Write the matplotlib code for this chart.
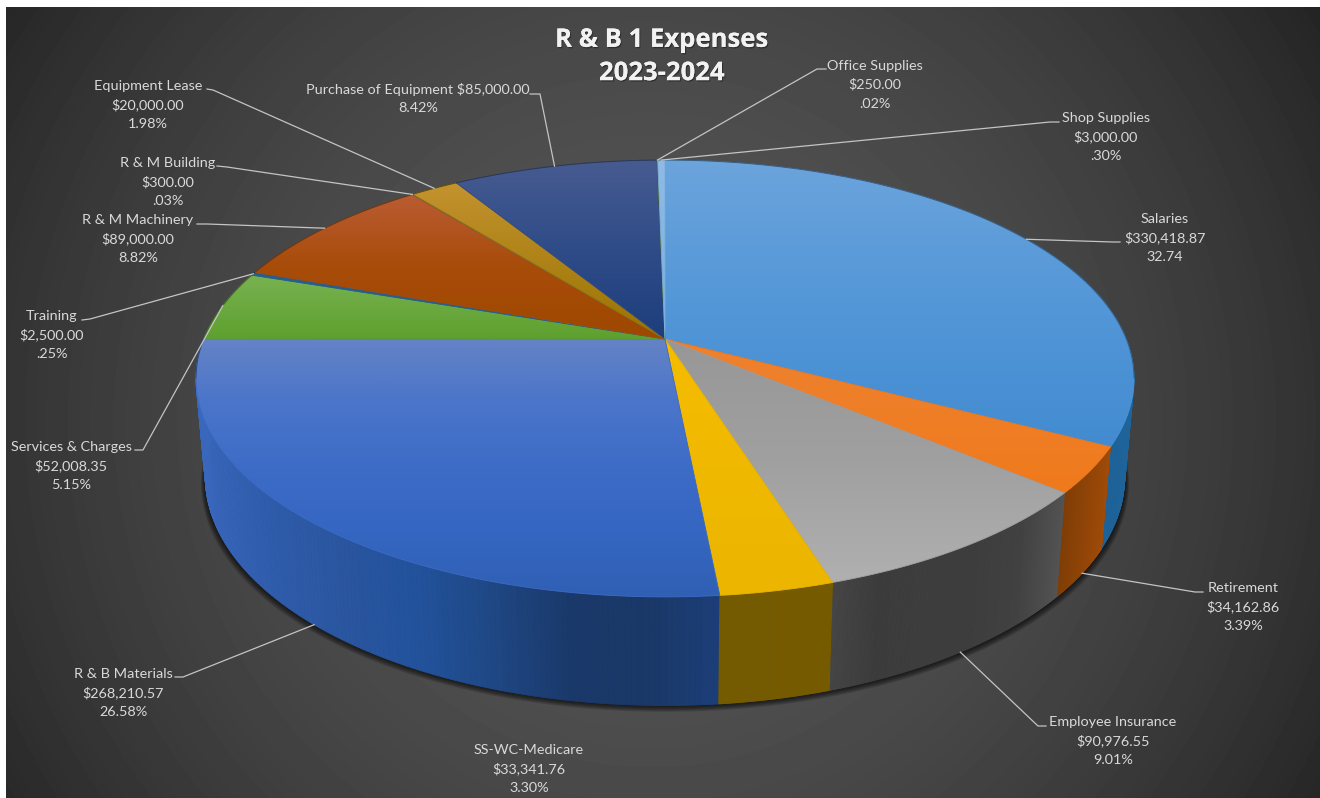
import numpy as np
import matplotlib
matplotlib.use('Agg')
import matplotlib.pyplot as plt
import matplotlib.patheffects as pe
from matplotlib.colors import LinearSegmentedColormap
from matplotlib.patches import Polygon

categorias = ['Salaries', 'Retirement', 'Employee Insurance', 'SS-WC-Medicare', 'R & B Materials',
              'Services & Charges', 'Training', 'R & M Machinery', 'R & M Building', 'Equipment Lease',
              'Purchase of Equipment', 'Office Supplies', 'Shop Supplies']
valores = [330418.87, 34162.86, 90976.55, 33341.76, 268210.57,
           52008.35, 2500.00, 89000.00, 300.00, 20000.00,
           85000.00, 250.00, 3000.00]
percentuais = ['32.74', '3.39%', '9.01%', '3.30%', '26.58%',
               '5.15%', '.25%', '8.82%', '.03%', '1.98%',
               '8.42%', '.02%', '.30%']

# centre of each label block, in pixels
pos_rotulos = [(1165, 237), (1243, 606), (1113, 740), (529, 768), (123, 692),
               (71, 465), (52, 334), (138, 238), (168, 181), (148, 104),
               (418, 98), (875, 84), (1106, 136)]
# where each leader leaves its label: elbow start, elbow end
cotovelos = [((1120, 242), (1113, 242)), ((1203, 592), (1195, 592)), ((1046, 726), (1038, 726)), None,
             ((175, 677), (183, 677)), ((135, 450), (143, 450)), ((82, 320), (90, 319)),
             ((197, 224), (207, 224)), ((217, 166), (227, 167)), ((207, 89), (213, 90)),
             ((530, 94), (540, 94)), ((826, 69), (817, 69)), ((1059, 122), (1050, 122))]

# top face: colours from upper to lower edge of the slice
cores_topo = [
    ['#6ca4dc', '#5b9bd9', '#4d93d6', '#438bd0'],
    ['#ee8230', '#f07a1c'],
    ['#979797', '#a0a0a0', '#b0b0b0'],
    ['#f5bc00', '#ebb500'],
    ['#6583c6', '#4a75ca', '#3d6cc7', '#3566c1', '#3060b4'],
    ['#78b251', '#5ea02e'],
    ['#255e91', '#255e91'],
    ['#ba5c33', '#a84c0a', '#9e4800'],
    ['#636363', '#636363'],
    ['#c4932f', '#997300'],
    ['#475b90', '#2f4c88', '#1d3d7c'],
    ['#43682b', '#43682b'],
    ['#8fbbe6', '#7cafdd'],
]
# side wall: colours from left to right
cores_lateral = [
    ['#1c5c90', '#1e659c'],
    ['#7c3c06', '#a34c08'],
    ['#464646', '#3c3c3c', '#3e3e3e', '#3e3e3e', '#424242', '#555555'],
    ['#745a00', '#755a00'],
    ['#3a68bd', '#2f5cab', '#2a559f', '#22529c', '#1f4783', '#1a396b', '#1a3867', '#1c3e78'],
    ['#4d7a30', '#4d7a30'],
    ['#1a4266', '#1a4266'],
    ['#6c3309', '#6c3309'],
    ['#444444', '#444444'],
    ['#6b5000', '#6b5000'],
    ['#1a2f54', '#1a2f54'],
    ['#2f491e', '#2f491e'],
    ['#5a7f9f', '#5a7f9f'],
]

LARG, ALT = 1320, 798
CX, CY = 665, 339
A, B, K = 461.3, 211.3, 0.1807
ESC_X, ESC_Y, DESCE = 0.98, 1.045, 97
ENTRELINHA = 19

plt.rcParams['font.family'] = ['Lato', 'DejaVu Sans']


def aro(t, inferior=False):
    # t runs clockwise from twelve o'clock; perspective squeezes the far side
    den = 1 + K * np.cos(t)
    x = A * np.sin(t) / den
    y = B * np.cos(t) / den
    if inferior:
        return np.column_stack([CX + ESC_X * x, CY + DESCE - ESC_Y * y])
    return np.column_stack([CX + x, CY - y])


def preencher(ax, verts, cores, z=3):
    poly = Polygon(verts, closed=True, fc='none', ec='none')
    ax.add_patch(poly)
    x0, y0 = verts.min(axis=0)
    x1, y1 = verts.max(axis=0)
    grad = np.linspace(0, 1, 256).reshape(-1, 1)
    cmap = LinearSegmentedColormap.from_list('g', cores)
    im = ax.imshow(grad, extent=(x0, x1, y1, y0), cmap=cmap, aspect='auto',
                   zorder=z, interpolation='bilinear')
    im.set_clip_path(poly)
    # smooths the jagged clip edge of the image
    ax.add_patch(Polygon(verts, closed=True, fc='none', ec=cores[len(cores) // 2], lw=0.6, zorder=z))


def parede(ax, t, cores, z):
    # one thin quad per step, so the surface can fold at the silhouette without holes
    cmap = LinearSegmentedColormap.from_list('p', cores)
    cima, baixo = aro(t), aro(t, inferior=True)
    x0, x1 = min(cima[:, 0].min(), baixo[:, 0].min()), max(cima[:, 0].max(), baixo[:, 0].max())
    for i in range(len(t) - 1):
        quad = np.array([cima[i], cima[i + 1], baixo[i + 1], baixo[i]])
        cor = cmap((quad[:, 0].mean() - x0) / max(x1 - x0, 1))
        ax.add_patch(Polygon(quad, closed=True, fc=cor, ec=cor, lw=0.6, zorder=z))


fig = plt.figure(figsize=(LARG / 100, ALT / 100), dpi=100, facecolor='white')
ax = fig.add_axes([0, 0, 1, 1])
ax.set_xlim(0, LARG)
ax.set_ylim(ALT, 0)
ax.set_autoscale_on(False)
ax.axis('off')

# dark radial background
xx, yy = np.meshgrid(np.arange(6, LARG), np.arange(7, ALT))
r = np.hypot(xx - 650, yy - 420) / 780
fundo = 0x54 - (0x54 - 0x25) * np.clip(r, 0, 1) ** 2
ax.imshow(fundo, extent=(6, LARG, ALT, 7), cmap='gray', vmin=0, vmax=255, aspect='auto', zorder=0)

valores_arr = np.array(valores)
limites = np.concatenate([[0], np.cumsum(valores_arr)]) / valores_arr.sum() * 2 * np.pi

# soft shadow under the disc
t_todo = np.linspace(0, 2 * np.pi, 361)
for i in range(9):
    p = aro(t_todo, inferior=True)
    p[:, 0] = CX + (p[:, 0] - CX) * (1 + i * 0.0012)
    p[:, 1] = p[:, 1] + i * 0.8
    ax.add_patch(Polygon(p, closed=True, fc='black', ec='none', alpha=0.11, zorder=1))

# side walls, far ones first
ordem = sorted(range(len(valores)), key=lambda n: -np.cos((limites[n] + limites[n + 1]) / 2))
for n in ordem:
    t = np.linspace(limites[n], limites[n + 1], 160)
    t = t[np.cos(t) < 0.5]
    if len(t) < 2:
        continue
    parede(ax, t, cores_lateral[n], 2 + 0.01 * ordem.index(n))

# top faces
for n in range(len(valores)):
    t = np.linspace(limites[n], limites[n + 1], 200)
    verts = np.vstack([[CX, CY], aro(t)])
    preencher(ax, verts, cores_topo[n])

# thin dark edge along the far rim
t_fundo = np.linspace(-1.75, 1.75, 200)
borda = aro(t_fundo)
ax.plot(borda[:, 0], borda[:, 1], color='#202020', lw=0.7, alpha=0.45, zorder=4)

# labels and leaders
for n, nome in enumerate(categorias):
    if nome == 'Purchase of Equipment':
        linhas = [f'{nome} ${valores[n]:,.2f}', percentuais[n]]
    else:
        linhas = [nome, f'${valores[n]:,.2f}', percentuais[n]]
    x, y = pos_rotulos[n]
    # baselines on a fixed step, matplotlib's multiline spacing varies with the glyphs
    for i, linha in enumerate(linhas):
        y_linha = y + (i - (len(linhas) - 1) / 2) * ENTRELINHA + 5
        ax.text(x, y_linha, linha, ha='center', va='baseline', fontsize=10.35,
                color='#d9d9d9', zorder=6)
    if cotovelos[n] is None:
        continue
    meio = (limites[n] + limites[n + 1]) / 2
    ponta = aro(np.array([meio]), inferior=np.cos(meio) < 0)[0]
    (xa, ya), (xb, yb) = cotovelos[n]
    ax.plot([xa, xb, ponta[0]], [ya, yb, ponta[1]], color='#c4c4c4', lw=0.9, zorder=5,
            solid_joinstyle='round')

sombra = [pe.withSimplePatchShadow(offset=(0.8, -1), shadow_rgbFace='black', alpha=0.35), pe.Normal()]
ax.text(662, 56, 'R & B 1 Expenses\n2023-2024', ha='center', va='center', multialignment='center',
        family='Open Sans', fontweight='bold', fontsize=18.5, color='#f2f2f2', linespacing=1.3,
        zorder=6, path_effects=sombra)

fig.savefig('out.png', dpi=100, facecolor='white')
